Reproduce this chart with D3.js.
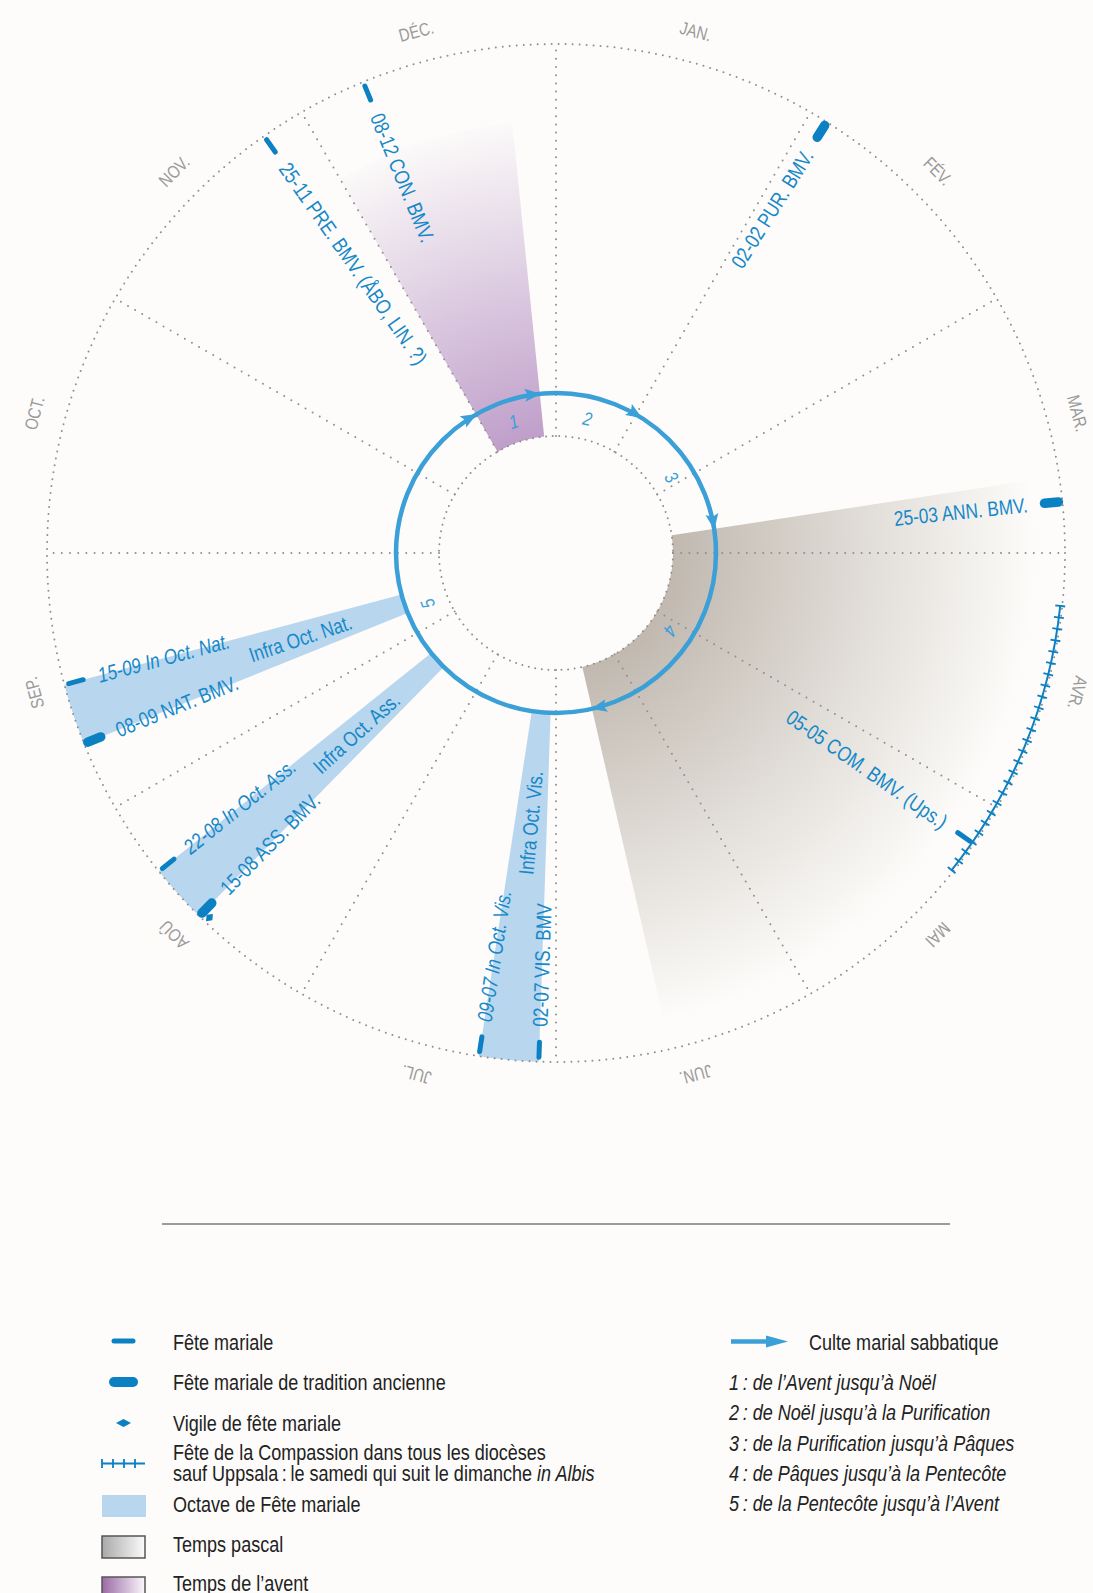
<!DOCTYPE html>
<html>
<head>
<meta charset="utf-8">
<script src="https://cdn.jsdelivr.net/npm/d3@7/dist/d3.min.js"></script>
<style>
  html, body { margin: 0; padding: 0; background: #fdfcfa; }
  svg { display: block; }
  text { font-family: "Liberation Sans", Arial, sans-serif; }
</style>
</head>
<body>
<svg id="svg"></svg>
<script>
// months, drawn as 12 equal slices
var months = ["JAN.", "FÉV.", "MAR.", "AVR.", "MAI", "JUN.", "JUL.", "AOÛ", "SEP.", "OCT.", "NOV.", "DÉC."];
var monthDays = [31, 28, 31, 30, 31, 30, 31, 31, 30, 31, 30, 31];

// marian feasts (dd-mm)
var feastDates = ["08-12", "25-11", "02-02", "25-03", "05-05", "02-07", "09-07", "15-08", "22-08", "08-09", "15-09"];
var feastLabels = ["08-12 CON. BMV.", "25-11 PRE. BMV. (ÅBO, LIN. ?)", "02-02 PUR. BMV.", "25-03 ANN. BMV.",
  "05-05 COM. BMV. (Ups.)", "02-07 VIS. BMV", "09-07 In Oct. Vis.", "15-08 ASS. BMV.", "22-08 In Oct. Ass.",
  "08-09 NAT. BMV.", "15-09 In Oct. Nat."];
var feastAncient = [false, false, true, true, false, false, false, true, false, true, false];
var feastItalic = [false, false, false, false, false, false, true, false, true, false, true];

// octaves
var octaveStart = ["02-07", "15-08", "08-09"];
var octaveEnd = ["09-07", "22-08", "15-09"];
var octaveLabels = ["Infra Oct. Vis.", "Infra Oct. Ass.", "Infra Oct. Nat."];

var vigilDates = ["14-08"];
var compassion = ["06-04", "09-05"];
var compassionTicks = 25;

// seasons
var adventSpan = ["30-11", "25-12"];
var pascalSpan = ["22-03", "17-06"];

// saturday cult of mary, segment limits
var cycleLimits = ["30-11", "25-12", "02-02", "22-03", "17-06"];
var cycleNames = ["1", "2", "3", "4", "5"];

var legendLeft = ["Fête mariale", "Fête mariale de tradition ancienne", "Vigile de fête mariale",
  "Fête de la Compassion dans tous les diocèses", "Octave de Fête mariale", "Temps pascal", "Temps de l’avent"];
var legendRight = ["1\u202F: de l’Avent jusqu’à Noël", "2\u202F: de Noël jusqu’à la Purification",
  "3\u202F: de la Purification jusqu’à Pâques", "4\u202F: de Pâques jusqu’à la Pentecôte",
  "5\u202F: de la Pentecôte jusqu’à l’Avent"];

var width = 1093, height = 1593;
var cx = 556, cy = 553;
var rInner = 117, rRing = 160, rOuter = 509;

var markBlue = "#0b80c2", textBlue = "#1688c8", ringBlue = "#3b9fd8", octBlue = "#b8d6ee";
var dotGrey = "#8f8f8f", monthGrey = "#9a9a9a";
// narrow look: squeeze the regular face
var squeeze = " scale(0.82,1)";

function deg(s) {
  var p = s.split("-").map(Number);
  return (p[1] - 1) * 30 + p[0] / monthDays[p[1] - 1] * 30;
}
var ang = d3.scaleLinear().domain([0, 360]).range([0, 2 * Math.PI]);

var svg = d3.select("#svg").attr("width", width).attr("height", height);
svg.append("rect").attr("width", width).attr("height", height).attr("fill", "#fdfcfa");

var defs = svg.append("defs");
function radialFade(id, color, r0, r1, op) {
  var g = defs.append("radialGradient").attr("id", id)
      .attr("gradientUnits", "userSpaceOnUse")
      .attr("cx", 0).attr("cy", 0).attr("r", r1);
  g.append("stop").attr("offset", r0 / r1).attr("stop-color", color).attr("stop-opacity", op);
  g.append("stop").attr("offset", 1).attr("stop-color", color).attr("stop-opacity", 0);
}
radialFade("advent", "#bf9fca", rInner, 440, 1);
radialFade("pascal", "#c1b9b0", rInner, 480, 1);

var lg1 = defs.append("linearGradient").attr("id", "legPascal");
lg1.append("stop").attr("offset", 0).attr("stop-color", "#a9a9a9");
lg1.append("stop").attr("offset", 1).attr("stop-color", "#fbfbfb");
var lg2 = defs.append("linearGradient").attr("id", "legAdvent");
lg2.append("stop").attr("offset", 0).attr("stop-color", "#9a6aa6");
lg2.append("stop").attr("offset", 1).attr("stop-color", "#fbf8fb");

var g = svg.append("g").attr("transform", "translate(" + cx + "," + cy + ")");
var arc = d3.arc();

// seasons
g.append("path")
    .attr("d", arc({innerRadius: rInner, outerRadius: 432,
      startAngle: ang(deg(adventSpan[0])), endAngle: ang(deg(adventSpan[1]))}))
    .attr("fill", "url(#advent)");
g.append("path")
    .attr("d", arc({innerRadius: rInner, outerRadius: 500,
      startAngle: ang(deg(pascalSpan[0])), endAngle: ang(deg(pascalSpan[1]))}))
    .attr("fill", "url(#pascal)");

// octave bands
g.selectAll(".oct").data(octaveStart).join("path")
    .attr("class", "oct")
    .attr("d", function(d, i) {
      return arc({innerRadius: rRing, outerRadius: rOuter,
        startAngle: ang(deg(d)), endAngle: ang(deg(octaveEnd[i]))});
    })
    .attr("fill", octBlue);

// dotted grid
function dotted(sel, gap) {
  return sel.attr("fill", "none").attr("stroke", dotGrey).attr("stroke-width", 2)
      .attr("stroke-linecap", "round").attr("stroke-dasharray", "0 " + gap);
}
dotted(g.append("circle").attr("r", rOuter), 7);
dotted(g.append("circle").attr("r", rInner), 6.6);
g.selectAll(".spoke").data(d3.range(12)).join("line")
    .attr("class", "spoke")
    .attr("x1", function(m) { return rInner * Math.sin(ang(m * 30)); })
    .attr("y1", function(m) { return -rInner * Math.cos(ang(m * 30)); })
    .attr("x2", function(m) { return rOuter * Math.sin(ang(m * 30)); })
    .attr("y2", function(m) { return -rOuter * Math.cos(ang(m * 30)); })
    .call(dotted, 8.2);

// month names
g.selectAll(".month").data(months).join("text")
    .attr("class", "month")
    .attr("transform", function(d, i) { return "rotate(" + (i * 30 + 15) + ") translate(0," + (-540) + ")" + squeeze; })
    .attr("text-anchor", "middle").attr("dy", "0.35em")
    .attr("font-size", 18).attr("fill", monthGrey)
    .text(function(d) { return d; });

// sabbatical ring
g.append("circle").attr("r", rRing).attr("fill", "none")
    .attr("stroke", ringBlue).attr("stroke-width", 4.5);
g.selectAll(".head").data(cycleLimits).join("path")
    .attr("class", "head")
    .attr("transform", function(d) { return "rotate(" + deg(d) + ") translate(0," + (-rRing) + ")"; })
    .attr("d", "M1,0 L-15,-6.5 L-12,0 L-15,6.5 Z")
    .attr("fill", ringBlue);
g.selectAll(".cyc").data(cycleNames).join("text")
    .attr("class", "cyc")
    .attr("transform", function(d, i) {
      var a0 = deg(cycleLimits[i]), a1 = deg(cycleLimits[(i + 1) % 5]);
      if (a1 < a0) a1 += 360;
      return "rotate(" + ((a0 + a1) / 2) + ") translate(0," + (-138) + ")" + squeeze;
    })
    .attr("text-anchor", "middle").attr("dy", "0.35em")
    .attr("font-size", 19).attr("font-style", "italic").attr("fill", ringBlue)
    .text(function(d) { return d; });

// compassion line
var cA = deg(compassion[0]), cB = deg(compassion[1]);
var cp = d3.path();
cp.arc(0, 0, 507, ang(cA) - Math.PI / 2, ang(cB) - Math.PI / 2);
g.append("path").attr("d", cp.toString()).attr("fill", "none")
    .attr("stroke", markBlue).attr("stroke-width", 2);
g.selectAll(".tick").data(d3.range(compassionTicks + 1)).join("line")
    .attr("class", "tick")
    .attr("transform", function(k) { return "rotate(" + (cA + k * (cB - cA) / compassionTicks) + ")"; })
    .attr("y1", -502).attr("y2", -512)
    .attr("stroke", markBlue).attr("stroke-width", 1.8);

// feast marks
g.selectAll(".mark").data(feastDates).join("line")
    .attr("class", "mark")
    .attr("transform", function(d) { return "rotate(" + deg(d) + ")"; })
    .attr("y1", function(d, i) { return feastAncient[i] ? -491 : -489.5; })
    .attr("y2", function(d, i) { return feastAncient[i] ? -505 : -504.5; })
    .attr("stroke", markBlue)
    .attr("stroke-width", function(d, i) { return feastAncient[i] ? 9.5 : 5; })
    .attr("stroke-linecap", "round");

g.selectAll(".vigil").data(vigilDates).join("path")
    .attr("class", "vigil")
    .attr("transform", function(d) { return "rotate(" + deg(d) + ") translate(0,-503)"; })
    .attr("d", "M0,-5 L4,0 L0,5 L-4,0 Z")
    .attr("fill", markBlue);

// labels run along the radius, towards the mark
function radialText(a, r) {
  return "rotate(" + a + ") translate(0," + (-r) + ") rotate(" + (a < 180 ? -90 : 90) + ")" + squeeze;
}
g.selectAll(".flab").data(feastLabels).join("text")
    .attr("class", "flab")
    .attr("transform", function(d, i) { return radialText(deg(feastDates[i]), 474); })
    .attr("text-anchor", function(d, i) { return deg(feastDates[i]) < 180 ? "end" : "start"; })
    .attr("dy", "0.35em")
    .attr("font-size", 21)
    .attr("font-style", function(d, i) { return feastItalic[i] ? "italic" : "normal"; })
    .attr("fill", textBlue)
    .text(function(d) { return d; });
g.selectAll(".olab").data(octaveLabels).join("text")
    .attr("class", "olab")
    .attr("transform", function(d, i) {
      return radialText((deg(octaveStart[i]) + deg(octaveEnd[i])) / 2, 323);
    })
    .attr("dy", "0.35em")
    .attr("font-size", 21)
    .attr("fill", textBlue)
    .text(function(d) { return d; });

// legend
svg.append("line").attr("x1", 162).attr("x2", 950).attr("y1", 1224).attr("y2", 1224)
    .attr("stroke", "#3a3a3a").attr("stroke-width", 1.2);

function at(x, y) { return "translate(" + x + "," + y + ")" + squeeze; }
var leg = svg.append("g");
var rowY = [1350, 1390, 1431, 1460, 1512, 1552, 1591];
leg.selectAll(".lt").data(legendLeft).join("text")
    .attr("class", "lt")
    .attr("transform", function(d, i) { return at(173, rowY[i]); })
    .attr("font-size", 22).attr("fill", "#222")
    .text(function(d) { return d; });
var l2 = leg.append("text").attr("transform", at(173, 1481)).attr("font-size", 22).attr("fill", "#222");
l2.append("tspan").text("sauf Uppsala\u2009:\u2009le samedi qui suit le dimanche ");
l2.append("tspan").attr("font-style", "italic").text("in Albis");

leg.append("line").attr("x1", 114).attr("x2", 133).attr("y1", 1341).attr("y2", 1341)
    .attr("stroke", markBlue).attr("stroke-width", 5).attr("stroke-linecap", "round");
leg.append("line").attr("x1", 114).attr("x2", 133).attr("y1", 1382).attr("y2", 1382)
    .attr("stroke", markBlue).attr("stroke-width", 10).attr("stroke-linecap", "round");
leg.append("path").attr("d", "M116,1423 L123.5,1419 L131,1423 L123.5,1427 Z").attr("fill", markBlue);
leg.append("line").attr("x1", 102).attr("x2", 145).attr("y1", 1463.5).attr("y2", 1463.5)
    .attr("stroke", markBlue).attr("stroke-width", 1.8);
leg.selectAll(".lk").data([102, 113, 124, 135]).join("line")
    .attr("class", "lk")
    .attr("x1", function(d) { return d; }).attr("x2", function(d) { return d; })
    .attr("y1", 1459).attr("y2", 1468)
    .attr("stroke", markBlue).attr("stroke-width", 1.8);
leg.append("rect").attr("x", 102).attr("y", 1495).attr("width", 44).attr("height", 22).attr("fill", octBlue);
leg.append("rect").attr("x", 102).attr("y", 1536).attr("width", 43).attr("height", 22)
    .attr("fill", "url(#legPascal)").attr("stroke", "#555").attr("stroke-width", 1.5);
leg.append("rect").attr("x", 102).attr("y", 1577).attr("width", 43).attr("height", 22)
    .attr("fill", "url(#legAdvent)").attr("stroke", "#555").attr("stroke-width", 1.5);

leg.append("line").attr("x1", 731).attr("x2", 768).attr("y1", 1341.5).attr("y2", 1341.5)
    .attr("stroke", ringBlue).attr("stroke-width", 4.5);
leg.append("path").attr("d", "M788,1341.5 L766,1335.5 L766,1347.5 Z").attr("fill", ringBlue);
leg.append("text").attr("transform", at(809, 1350)).attr("font-size", 22).attr("fill", "#222")
    .text("Culte marial sabbatique");
leg.selectAll(".rt").data(legendRight).join("text")
    .attr("class", "rt")
    .attr("transform", function(d, i) { return at(729, 1390 + i * 30.3); })
    .attr("font-size", 22).attr("font-style", "italic").attr("fill", "#222")
    .text(function(d) { return d; });
</script>
</body>
</html>
